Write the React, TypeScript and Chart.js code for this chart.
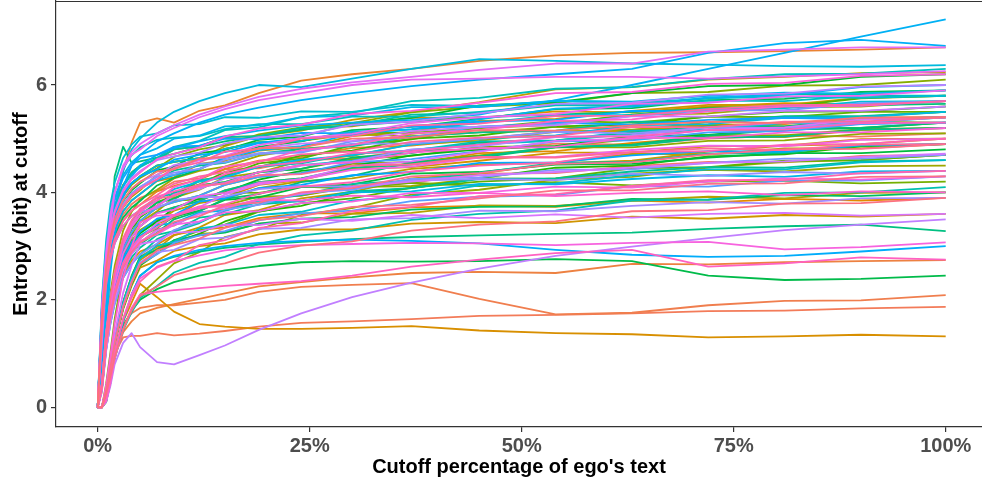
import React, { useEffect, useRef } from "react";
import { Chart, registerables } from "chart.js";
Chart.register(...registerables);

// x positions (percent of ego's text)
const xPct = [0, 0.5, 1, 1.5, 2, 3, 4, 5, 7, 9, 12, 15, 19, 24, 30, 37, 45, 54, 63, 72, 81, 90, 100];
const xTickValues = [0, 25, 50, 75, 100];
const yTickValues = [0, 2, 4, 6];

// ---- entropy series (bits) ----
const L1 = [0,0.37,1.17,1.69,2.09,2.61,2.89,3.07,3.31,3.38,3.63,3.69,3.88,3.94,4.12,4.18,4.35,4.36,4.49,4.57,4.56,4.68,4.7];
const L2 = [0,1.56,2.42,2.93,3.24,3.59,3.78,3.9,4.02,4.2,4.26,4.43,4.45,4.6,4.63,4.79,4.79,4.91,4.89,5.0,5.06,5.04,5.1];
const sal_low = [0,0,0.15,0.55,1.0,1.3,1.33,1.33,1.38,1.34,1.37,1.42,1.5,1.57,1.6,1.64,1.7,1.72,1.75,1.79,1.8,1.84,1.87];
const sal_bump = [0,0,0.15,0.6,1.1,1.55,1.75,1.85,1.9,1.9,1.95,2.0,2.15,2.24,2.28,2.31,2.02,1.73,1.76,1.9,1.98,1.99,2.09];
const sal_275 = [0,0,0.12,0.5,0.95,1.4,1.6,1.75,1.85,1.92,2.02,2.12,2.25,2.33,2.42,2.5,2.52,2.5,2.67,2.66,2.7,2.72,2.74];
const or_top = [0,0.3,1.5,2.8,3.6,4.4,4.93,5.3,5.38,5.3,5.52,5.62,5.85,6.08,6.2,6.3,6.45,6.55,6.6,6.61,6.63,6.66,6.7];
const L3 = [0,1.51,2.34,2.83,3.13,3.47,3.66,3.77,4.02,4.12,4.24,4.44,4.59,4.66,4.83,4.87,4.99,5.14,5.14,5.26,5.27,5.39,5.4];
const L4 = [0,0.35,1.1,1.6,1.97,2.47,2.73,2.9,3.03,3.21,3.3,3.35,3.52,3.61,3.61,3.72,3.75,3.73,3.85,3.81,3.88,3.85,3.9];
const L5 = [0,0.38,1.19,1.73,2.14,2.67,2.95,3.14,3.42,3.53,3.82,3.91,4.14,4.23,4.45,4.53,4.73,4.77,4.92,5.03,5.03,5.16,5.2];
const L6 = [0,1.8,2.79,3.38,3.74,4.14,4.37,4.5,4.62,4.8,4.86,5.03,5.05,5.2,5.23,5.39,5.39,5.51,5.49,5.6,5.66,5.64,5.7];
const br_low = [0,0,0.1,0.5,1.0,1.6,1.95,2.3,2.05,1.78,1.55,1.5,1.46,1.46,1.48,1.51,1.43,1.38,1.36,1.3,1.32,1.35,1.32];
const L7 = [0,0.4,1.28,1.85,2.29,2.86,3.17,3.37,3.62,3.72,3.84,4.04,4.19,4.26,4.43,4.47,4.59,4.74,4.74,4.86,4.87,4.99,5.0];
const L8 = [0,0,0.31,0.73,1.17,1.82,2.26,2.6,2.73,2.91,3.0,3.05,3.22,3.31,3.31,3.42,3.45,3.43,3.55,3.51,3.58,3.55,3.6];
const L9 = [0,1.59,2.46,2.98,3.3,3.65,3.85,3.97,4.21,4.28,4.53,4.59,4.78,4.84,5.05,5.13,5.33,5.37,5.52,5.63,5.63,5.76,5.8];
const L10 = [0,0,0.33,0.77,1.23,1.92,2.38,2.74,2.95,3.2,3.35,3.58,3.67,3.89,4.01,4.26,4.35,4.54,4.59,4.76,4.87,4.9,5.0];
const dy_top = [0,1.62,2.5,3.03,3.35,3.72,3.92,4.04,4.33,4.47,4.63,4.86,5.05,5.15,5.35,5.5,5.68,5.92,5.96,6.1,6.15,6.22,6.24];
const L11 = [0,0.39,1.24,1.8,2.22,2.78,3.07,3.27,3.45,3.66,3.8,3.88,4.08,4.21,4.26,4.44,4.52,4.55,4.72,4.71,4.82,4.82,4.9];
const L12 = [0,0,0.34,0.78,1.26,1.96,2.44,2.8,2.99,3.03,3.23,3.26,3.42,3.44,3.6,3.62,3.76,3.75,3.85,3.92,3.89,3.99,4.0];
const L13 = [0,0.41,1.31,1.89,2.34,2.92,3.23,3.44,3.65,3.9,4.05,4.28,4.37,4.59,4.68,4.9,4.96,5.13,5.16,5.31,5.4,5.41,5.5];
const L14 = [0,1.72,2.67,3.23,3.57,3.96,4.17,4.3,4.5,4.57,4.64,4.81,4.93,4.96,5.08,5.05,5.12,5.22,5.17,5.26,5.23,5.32,5.3];
const L15 = [0,0.46,1.47,2.13,2.63,3.29,3.64,3.87,4.05,4.26,4.4,4.48,4.68,4.81,4.89,5.09,5.2,5.26,5.45,5.47,5.59,5.6,5.7];
const L16 = [0,0.4,1.25,1.82,2.24,2.81,3.1,3.3,3.49,3.53,3.73,3.76,3.92,3.94,4.1,4.12,4.26,4.25,4.35,4.42,4.39,4.49,4.5];
const L17 = [0,0,0.25,0.59,0.94,1.46,1.82,2.09,2.38,2.68,2.89,3.17,3.31,3.58,3.71,3.96,4.05,4.24,4.29,4.46,4.57,4.6,4.7];
const L18 = [0,0.42,1.32,1.91,2.36,2.95,3.26,3.47,3.72,3.82,3.94,4.14,4.29,4.36,4.53,4.57,4.69,4.84,4.84,4.96,4.97,5.09,5.1];
const L19 = [0,1.71,2.65,3.2,3.54,3.93,4.14,4.27,4.45,4.66,4.8,4.88,5.08,5.21,5.29,5.49,5.6,5.66,5.85,5.87,5.99,6.0,6.1];
const L20 = [0,0.43,1.36,1.96,2.43,3.03,3.36,3.57,3.81,3.88,4.13,4.19,4.38,4.44,4.62,4.68,4.85,4.86,4.99,5.07,5.06,5.18,5.2];
const L21 = [0,0,0.44,1.02,1.64,2.55,3.17,3.64,3.7,3.85,3.87,4.0,3.99,4.11,4.07,4.18,4.12,4.19,4.13,4.2,4.22,4.17,4.2];
const L22 = [0,1.72,2.67,3.23,3.57,3.96,4.17,4.3,4.5,4.57,4.64,4.81,4.93,4.96,5.11,5.11,5.2,5.33,5.3,5.41,5.4,5.5,5.5];
const L23 = [0,0,0.32,0.74,1.19,1.85,2.3,2.64,2.86,3.11,3.29,3.4,3.64,3.8,3.89,4.09,4.2,4.26,4.45,4.47,4.59,4.6,4.7];
const L24 = [0,0.42,1.35,1.95,2.41,3.01,3.33,3.54,3.82,3.93,4.22,4.31,4.54,4.63,4.88,4.99,5.22,5.28,5.45,5.58,5.6,5.75,5.8];
const L25 = [0,0.42,1.35,1.95,2.41,3.01,3.33,3.54,3.75,4.0,4.15,4.38,4.47,4.69,4.78,5.0,5.06,5.23,5.26,5.41,5.5,5.51,5.6];
const L26 = [0,0,0.32,0.74,1.19,1.85,2.3,2.64,2.93,3.07,3.23,3.46,3.65,3.75,3.99,4.08,4.26,4.46,4.5,4.67,4.71,4.86,4.9];
const L27 = [0,0.39,1.23,1.78,2.2,2.75,3.05,3.24,3.46,3.71,3.89,4.0,4.24,4.4,4.49,4.69,4.8,4.86,5.05,5.07,5.19,5.2,5.3];
const L28 = [0,1.67,2.59,3.13,3.46,3.84,4.04,4.17,4.41,4.48,4.73,4.79,4.98,5.04,5.28,5.39,5.62,5.68,5.85,5.98,6.0,6.15,6.2];
const L29 = [0,0.38,1.2,1.74,2.16,2.69,2.98,3.17,3.34,3.55,3.66,3.86,3.91,4.1,4.15,4.35,4.38,4.52,4.53,4.65,4.73,4.73,4.8];
const g2_low = [0,0,0.1,0.45,0.9,1.5,1.8,2.0,2.2,2.33,2.45,2.55,2.63,2.7,2.72,2.71,2.72,2.76,2.72,2.45,2.37,2.39,2.45];
const L30 = [0,1.54,2.38,2.88,3.19,3.53,3.72,3.84,4.13,4.27,4.43,4.66,4.85,4.95,5.16,5.22,5.37,5.55,5.57,5.72,5.74,5.87,5.9];
const L31 = [0,0,0.34,0.78,1.26,1.96,2.44,2.8,2.93,3.11,3.2,3.25,3.42,3.51,3.54,3.68,3.73,3.74,3.88,3.86,3.95,3.93,4.0];
const L32 = [0,0.43,1.36,1.96,2.43,3.03,3.36,3.57,3.81,3.88,4.13,4.19,4.38,4.44,4.65,4.73,4.93,4.97,5.12,5.23,5.23,5.36,5.4];
const L33 = [0,0.36,1.16,1.67,2.07,2.58,2.86,3.04,3.25,3.5,3.65,3.88,3.97,4.19,4.31,4.56,4.65,4.84,4.89,5.06,5.17,5.2,5.3];
const tg_spike = [0,0.5,1.6,3.2,4.3,4.85,4.55,4.58,4.65,4.72,4.85,4.95,5.05,5.17,5.25,5.32,5.4,5.45,5.5,5.55,5.58,5.62,5.65];
const tg_dip = [0,0,0.12,0.5,0.95,1.6,2.1,2.45,2.7,2.8,2.9,2.97,3.03,3.08,3.13,3.17,3.2,3.23,3.25,3.32,3.37,3.4,3.28];
const L34 = [0,0.4,1.28,1.85,2.29,2.86,3.17,3.37,3.62,3.72,3.84,4.04,4.19,4.26,4.46,4.52,4.67,4.85,4.87,5.02,5.04,5.17,5.2];
const L35 = [0,1.64,2.54,3.08,3.4,3.77,3.98,4.1,4.23,4.41,4.5,4.55,4.72,4.81,4.86,5.04,5.12,5.15,5.32,5.31,5.42,5.42,5.5];
const L36 = [0,0.36,1.13,1.63,2.02,2.52,2.79,2.97,3.21,3.28,3.53,3.59,3.78,3.84,4.02,4.08,4.25,4.26,4.39,4.47,4.46,4.58,4.6];
const L37 = [0,1.8,2.79,3.38,3.74,4.14,4.37,4.5,4.62,4.8,4.86,5.03,5.05,5.2,5.25,5.45,5.48,5.62,5.63,5.75,5.83,5.83,5.9];
const L38 = [0,0.34,1.08,1.56,1.93,2.41,2.67,2.84,3.13,3.27,3.43,3.66,3.85,3.95,4.16,4.22,4.37,4.55,4.57,4.72,4.74,4.87,4.9];
const L39 = [0,0,0.24,0.57,0.92,1.43,1.77,2.04,2.26,2.51,2.69,2.8,3.04,3.2,3.29,3.49,3.6,3.66,3.85,3.87,3.99,4.0,4.1];
const L40 = [0,0.44,1.39,2.02,2.5,3.12,3.45,3.67,3.91,3.98,4.23,4.29,4.48,4.54,4.72,4.78,4.95,4.96,5.09,5.17,5.16,5.28,5.3];
const L41 = [0,1.79,2.77,3.35,3.71,4.11,4.34,4.47,4.64,4.85,4.96,5.16,5.21,5.4,5.48,5.7,5.76,5.93,5.96,6.11,6.2,6.21,6.3];
const L42 = [0,1.94,3.0,3.63,4.02,4.45,4.69,4.84,4.98,5.02,5.05,5.18,5.27,5.27,5.41,5.41,5.5,5.63,5.6,5.71,5.7,5.8,5.8];
const L43 = [0,0.43,1.36,1.96,2.43,3.03,3.36,3.57,3.75,3.96,4.1,4.18,4.38,4.51,4.59,4.79,4.9,4.96,5.15,5.17,5.29,5.3,5.4];
const L44 = [0,0,0.33,0.78,1.25,1.94,2.41,2.77,3.01,3.08,3.33,3.39,3.58,3.64,3.85,3.93,4.13,4.17,4.32,4.43,4.43,4.56,4.6];
const L45 = [0,2.02,3.12,3.78,4.18,4.64,4.89,5.04,5.1,5.25,5.27,5.4,5.39,5.51,5.5,5.63,5.61,5.7,5.66,5.75,5.79,5.76,5.8];
const L46 = [0,1.72,2.67,3.23,3.57,3.96,4.17,4.3,4.5,4.57,4.64,4.81,4.93,4.96,5.13,5.17,5.29,5.44,5.44,5.56,5.57,5.69,5.7];
const cb_top = [0,1.0,2.2,3.1,3.7,4.4,4.8,5.0,5.3,5.5,5.7,5.85,6.0,5.96,6.12,6.3,6.48,6.45,6.4,6.38,6.35,6.34,6.37];
const L47 = [0,1.47,2.28,2.75,3.05,3.38,3.56,3.67,3.85,4.06,4.2,4.28,4.48,4.61,4.69,4.89,5.0,5.06,5.25,5.27,5.39,5.4,5.5];
const L48 = [0,0.38,1.22,1.76,2.18,2.72,3.01,3.2,3.39,3.43,3.63,3.66,3.82,3.84,4.0,4.02,4.16,4.15,4.25,4.32,4.29,4.39,4.4];
const L49 = [0,1.88,2.91,3.53,3.9,4.32,4.56,4.7,4.82,5.0,5.06,5.23,5.25,5.4,5.43,5.59,5.59,5.71,5.69,5.8,5.86,5.84,5.9];
const L50 = [0,1.59,2.46,2.98,3.3,3.65,3.85,3.97,4.22,4.32,4.44,4.64,4.79,4.86,5.09,5.18,5.36,5.56,5.6,5.77,5.81,5.96,6.0];
const bl_up = [0,0.6,1.5,2.5,3.2,3.9,4.3,4.5,4.7,4.82,4.95,5.05,5.15,5.25,5.3,5.35,5.45,5.72,6.0,6.3,6.6,6.9,7.22];
const bl_673 = [0,0.8,1.8,2.8,3.4,4.1,4.5,4.7,4.95,5.1,5.3,5.45,5.58,5.72,5.85,5.98,6.1,6.2,6.3,6.6,6.78,6.84,6.73];
const bl_3 = [0,0,0.12,0.5,0.95,1.6,2.1,2.45,2.7,2.82,2.93,3.0,3.06,3.1,3.12,3.1,3.05,2.93,2.84,2.8,2.82,2.9,3.0];
const L51 = [0,1.72,2.67,3.23,3.57,3.96,4.17,4.3,4.43,4.61,4.7,4.75,4.92,5.01,5.06,5.24,5.32,5.35,5.52,5.51,5.62,5.62,5.7];
const L52 = [0,0.39,1.24,1.8,2.22,2.78,3.07,3.27,3.51,3.58,3.83,3.89,4.08,4.14,4.32,4.38,4.55,4.56,4.69,4.77,4.76,4.88,4.9];
const L53 = [0,1.86,2.88,3.48,3.85,4.27,4.5,4.64,4.7,4.85,4.87,5.0,4.99,5.11,5.1,5.23,5.21,5.3,5.26,5.35,5.39,5.36,5.4];
const L54 = [0,0.42,1.32,1.91,2.36,2.95,3.26,3.47,3.72,3.82,3.94,4.14,4.29,4.36,4.56,4.62,4.77,4.95,4.97,5.12,5.14,5.27,5.3];
const L55 = [0,0,0.32,0.75,1.2,1.87,2.32,2.67,2.85,3.06,3.2,3.28,3.48,3.61,3.66,3.84,3.92,3.95,4.12,4.11,4.22,4.22,4.3];
const L56 = [0,1.64,2.54,3.08,3.4,3.77,3.98,4.1,4.29,4.33,4.53,4.56,4.72,4.74,4.95,5.03,5.23,5.27,5.42,5.53,5.53,5.66,5.7];
const L57 = [0,0.34,1.08,1.56,1.93,2.41,2.67,2.84,3.05,3.3,3.45,3.68,3.77,3.99,4.05,4.25,4.28,4.42,4.43,4.55,4.63,4.63,4.7];
const L58 = [0,1.64,2.54,3.08,3.4,3.77,3.98,4.1,4.3,4.37,4.44,4.61,4.73,4.76,4.91,4.91,5.0,5.13,5.1,5.21,5.2,5.3,5.3];
const L59 = [0,0.44,1.38,2.0,2.48,3.09,3.42,3.64,3.71,3.86,3.91,3.92,4.06,4.12,4.11,4.22,4.25,4.23,4.35,4.31,4.38,4.35,4.4];
const L60 = [0,0,0.32,0.76,1.22,1.89,2.35,2.7,2.89,2.93,3.13,3.16,3.32,3.34,3.5,3.52,3.66,3.65,3.75,3.82,3.79,3.89,3.9];
const L61 = [0,0.43,1.36,1.96,2.43,3.03,3.36,3.57,3.74,3.95,4.06,4.26,4.31,4.5,4.58,4.8,4.86,5.03,5.06,5.21,5.3,5.31,5.4];
const L62 = [0,1.76,2.73,3.3,3.65,4.05,4.27,4.4,4.6,4.67,4.74,4.91,5.03,5.06,5.26,5.32,5.47,5.65,5.67,5.82,5.84,5.97,6.0];
const pu_dip = [0,0,0.1,0.4,0.8,1.2,1.38,1.12,0.84,0.8,0.97,1.15,1.44,1.75,2.05,2.32,2.58,2.82,2.99,3.15,3.3,3.4,3.5];
const L63 = [0,1.68,2.6,3.15,3.49,3.86,4.07,4.2,4.33,4.51,4.6,4.65,4.82,4.91,4.96,5.14,5.22,5.25,5.42,5.41,5.52,5.52,5.6];
const L64 = [0,0.3,1.05,1.6,2.0,2.55,2.85,3.07,3.29,3.4,3.6,3.72,3.86,3.97,4.1,4.2,4.32,4.38,4.46,4.55,4.58,4.66,4.72];
const L65 = [0,0,0.36,0.85,1.37,2.13,2.64,3.04,3.1,3.25,3.27,3.4,3.39,3.51,3.47,3.58,3.52,3.59,3.53,3.6,3.62,3.57,3.6];
const L66 = [0,0.38,1.19,1.73,2.14,2.67,2.95,3.14,3.43,3.57,3.73,3.96,4.15,4.25,4.49,4.58,4.76,4.96,5.0,5.17,5.21,5.36,5.4];
const mg_top = [0,1.2,2.4,3.4,4.0,4.5,4.75,4.9,5.1,5.25,5.45,5.6,5.78,5.93,6.05,6.15,6.28,6.4,6.4,6.62,6.66,6.7,6.7];
const mg_d = [0,1.9,2.9,3.6,4.0,4.45,4.7,4.8,5.05,5.2,5.4,5.55,5.72,5.85,6.0,6.1,6.12,6.15,6.15,6.12,6.16,6.2,6.26];
const L67 = [0,1.63,2.52,3.05,3.38,3.74,3.95,4.07,4.25,4.46,4.6,4.68,4.88,5.01,5.09,5.29,5.4,5.46,5.65,5.67,5.79,5.8,5.9];
const L68 = [0,0.4,1.28,1.85,2.29,2.86,3.17,3.37,3.61,3.68,3.93,3.99,4.18,4.24,4.42,4.48,4.65,4.66,4.79,4.87,4.86,4.98,5.0];
const L69 = [0,0.37,1.18,1.71,2.11,2.64,2.91,3.1,3.22,3.4,3.46,3.63,3.65,3.8,3.83,3.99,3.99,4.11,4.09,4.2,4.26,4.24,4.3];
const mp_3 = [0,0,0.15,0.55,1.0,1.65,2.1,2.4,2.6,2.72,2.83,2.92,2.98,3.02,3.04,3.06,3.05,3.02,3.06,3.08,2.94,2.98,3.07];
const L70 = [0,1.75,2.71,3.28,3.63,4.02,4.24,4.37,4.62,4.72,4.84,5.04,5.19,5.26,5.46,5.52,5.67,5.85,5.87,6.02,6.04,6.17,6.2];
const L71 = [0,0.43,1.36,1.96,2.43,3.03,3.36,3.57,3.75,3.96,4.1,4.18,4.38,4.51,4.56,4.74,4.82,4.85,5.02,5.01,5.12,5.12,5.2];
const L72 = [0,0,0.41,0.96,1.55,2.41,2.99,3.44,3.57,3.58,3.74,3.73,3.86,3.85,3.94,3.91,3.99,3.93,3.99,4.02,3.95,4.02,4.0];
const L73 = [0,0.44,1.38,2.0,2.48,3.09,3.42,3.64,3.85,4.1,4.25,4.48,4.57,4.79,4.88,5.1,5.16,5.33,5.36,5.51,5.6,5.61,5.7];
const pk_275 = [0,0,0.12,0.45,0.9,1.45,1.85,2.1,2.15,2.18,2.22,2.26,2.3,2.35,2.45,2.62,2.75,2.87,2.93,2.62,2.68,2.79,2.75];
const L74 = [0,1.47,2.28,2.75,3.05,3.38,3.56,3.67,3.92,4.02,4.14,4.34,4.49,4.56,4.73,4.77,4.89,5.04,5.04,5.16,5.17,5.29,5.3];
const L75 = [0,0.38,1.2,1.74,2.16,2.69,2.98,3.17,3.35,3.56,3.7,3.78,3.98,4.11,4.19,4.39,4.5,4.56,4.75,4.77,4.89,4.9,5.0];
const L76 = [0,0,0.28,0.66,1.05,1.64,2.04,2.34,2.62,2.73,3.02,3.11,3.34,3.43,3.65,3.73,3.93,3.97,4.12,4.23,4.23,4.36,4.4];
const L77 = [0,1.63,2.52,3.05,3.38,3.74,3.95,4.07,4.24,4.45,4.56,4.76,4.81,5.0,5.05,5.25,5.28,5.42,5.43,5.55,5.63,5.63,5.7];
const L78 = [0,1.51,2.34,2.83,3.13,3.47,3.66,3.77,3.95,4.16,4.3,4.38,4.58,4.71,4.76,4.94,5.02,5.05,5.22,5.21,5.32,5.32,5.4];
const L79 = [0,0.44,1.41,2.04,2.52,3.15,3.48,3.7,3.89,3.93,4.13,4.16,4.32,4.34,4.5,4.52,4.66,4.65,4.75,4.82,4.79,4.89,4.9];
const L80 = [0,0.37,1.17,1.69,2.09,2.61,2.89,3.07,3.24,3.45,3.56,3.76,3.81,4.0,4.08,4.3,4.36,4.53,4.56,4.71,4.8,4.81,4.9];
const L81 = [0,0,0.32,0.75,1.2,1.87,2.32,2.67,2.92,3.02,3.14,3.34,3.49,3.56,3.73,3.77,3.89,4.04,4.04,4.16,4.17,4.29,4.3];
const L82 = [0,0,0.25,0.58,0.93,1.45,1.8,2.07,2.25,2.46,2.6,2.68,2.88,3.01,3.09,3.29,3.4,3.46,3.65,3.67,3.79,3.8,3.9];
const L83 = [0,1.68,2.6,3.15,3.49,3.86,4.07,4.2,4.39,4.43,4.63,4.66,4.82,4.84,5.0,5.02,5.16,5.15,5.25,5.32,5.29,5.39,5.4];

// series in factor order (each gets its own hue; later ones are drawn on top)
const SERIES: number[][] = [
  L1, L2, sal_low, sal_bump, sal_275,
  or_top, L3, L4, L5, L6,
  br_low, L7, L8, L9, L10,
  dy_top, L11, L12, L13, L14,
  L15, L16, L17, L18, L19,
  L20, L21, L22, L23, L24,
  L25, L26, L27, L28, L29,
  g2_low, L30, L31, L32, L33,
  tg_spike, tg_dip, L34, L35, L36,
  L37, L38, L39, L40, L41,
  L42, L43, L44, L45, L46,
  cb_top, L47, L48, L49, L50,
  bl_up, bl_673, bl_3, L51, L52,
  L53, L54, L55, L56, L57,
  L58, L59, L60, L61, L62,
  pu_dip, L63, L64, L65, L66,
  mg_top, mg_d, L67, L68, L69,
  mp_3, L70, L71, L72, L73,
  pk_275, L74, L75, L76, L77,
  L78, L79, L80, L81, L82, L83,
];

// ggplot2-style hue palette (HCL, l = 65, c = 100)
function hclColor(h: number, c = 100, l = 65): string {
  const hr = (h * Math.PI) / 180;
  const U = c * Math.cos(hr);
  const V = c * Math.sin(hr);
  const Xn = 95.047, Yn = 100.0, Zn = 108.883;
  const un = (4 * Xn) / (Xn + 15 * Yn + 3 * Zn);
  const vn = (9 * Yn) / (Xn + 15 * Yn + 3 * Zn);
  const Y = l > 8 ? Yn * Math.pow((l + 16) / 116, 3) : (Yn * l) / 903.3;
  const u = U / (13 * l) + un;
  const v = V / (13 * l) + vn;
  const X = (9 * Y * u) / (4 * v);
  const Z = -X / 3 - 5 * Y + (3 * Y) / v;
  const x = X / 100, y = Y / 100, z = Z / 100;
  const lin = [
    3.2404542 * x - 1.5371385 * y - 0.4985314 * z,
    -0.969266 * x + 1.8760108 * y + 0.041556 * z,
    0.0556434 * x - 0.2040259 * y + 1.0572252 * z,
  ];
  const out = lin.map((cv) => {
    const g = cv <= 0.0031308 ? 12.92 * cv : 1.055 * Math.pow(Math.max(cv, 0), 1 / 2.4) - 0.055;
    return Math.round(Math.min(1, Math.max(0, g)) * 255);
  });
  return "#" + out.map((n) => n.toString(16).padStart(2, "0")).join("");
}

const FONT = "'Liberation Sans', Arial, Helvetica, sans-serif";

const panelBorder = {
  id: "panelBorder",
  afterDraw(chart: any) {
    const { ctx, chartArea } = chart;
    ctx.save();
    ctx.strokeStyle = "#333333";
    ctx.lineWidth = 1.2;
    ctx.beginPath();
    ctx.moveTo(chartArea.left, chartArea.top + 0.5);
    ctx.lineTo(chartArea.right + 2, chartArea.top + 0.5);
    ctx.stroke();
    ctx.restore();
  },
};

export default function App() {
  const ref = useRef<HTMLCanvasElement | null>(null);

  useEffect(() => {
    document.body.style.margin = "0";
    if (!ref.current) return;
    const n = SERIES.length;
    const built = SERIES.map((ys, i) => {
      const col = hclColor(15 + (360 * i) / n);
      return {
        data: ys.map((y, k) => ({ x: xPct[k], y })),
        borderColor: col,
        backgroundColor: col,
        borderWidth: 1.8,
        pointRadius: 0,
        tension: 0,
        borderJoinStyle: "round",
        fill: false,
      };
    });
    // Chart.js paints dataset 0 last, so reverse to keep later series on top
    const datasets = built.slice().reverse();

    const chart = new Chart(ref.current, {
      type: "line",
      data: { datasets },
      options: {
        animation: false,
        responsive: false,
        layout: { padding: { top: 1, right: 0, left: 0, bottom: 0 } },
        plugins: { legend: { display: false }, tooltip: { enabled: false } },
        scales: {
          x: {
            type: "linear",
            min: -4.917,
            max: 104.28,
            afterBuildTicks: (s: any) => {
              s.ticks = xTickValues.map((v) => ({ value: v }));
            },
            afterFit: (s: any) => {
              s.height = 57;
              s.paddingLeft = 0;
              s.paddingRight = 0;
            },
            ticks: {
              callback: (v: any) => v + "%",
              font: { family: FONT, size: 20, weight: "bold" },
              color: "#4D4D4D",
              padding: 2,
              maxRotation: 0,
              autoSkip: false,
            },
            grid: { display: true, drawOnChartArea: false, drawTicks: true, tickLength: 5, color: "#333333", lineWidth: 1.2 },
            border: { display: true, color: "#333333", width: 1.2 },
            title: {
              display: true,
              text: "Cutoff percentage of ego's text",
              font: { family: FONT, size: 20, weight: "bold" },
              color: "#000000",
              padding: { top: 0, bottom: 5 },
            },
          },
          y: {
            type: "linear",
            min: -0.367,
            max: 7.564,
            afterBuildTicks: (s: any) => {
              s.ticks = yTickValues.map((v) => ({ value: v }));
            },
            afterFit: (s: any) => {
              s.width = 56;
              s.paddingTop = 0;
              s.paddingBottom = 0;
            },
            ticks: {
              font: { family: FONT, size: 20, weight: "bold" },
              color: "#4D4D4D",
              padding: 4,
            },
            grid: { display: true, drawOnChartArea: false, drawTicks: true, tickLength: 5, color: "#333333", lineWidth: 1.2 },
            border: { display: true, color: "#333333", width: 1.2 },
            title: {
              display: true,
              text: "Entropy (bit) at cutoff",
              font: { family: FONT, size: 20, weight: "bold" },
              color: "#000000",
              padding: { top: 9, bottom: 0 },
            },
          },
        },
      },
      plugins: [panelBorder],
    });
    return () => chart.destroy();
  }, []);

  return (
    <div style={{ width: 982, height: 484, background: "#ffffff" }}>
      <canvas ref={ref} width={982} height={484} style={{ display: "block" }} />
    </div>
  );
}
